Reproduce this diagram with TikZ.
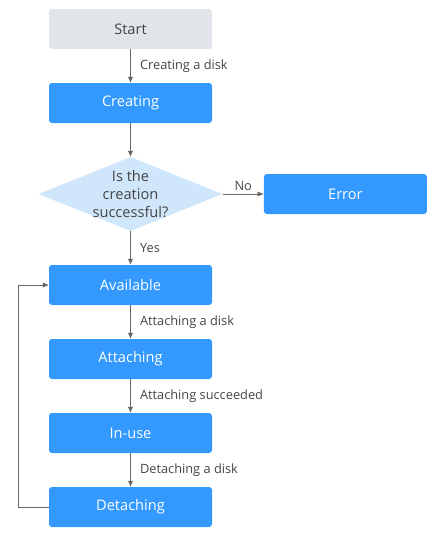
\documentclass[tikz,border=0pt]{standalone}
\usepackage{fontspec}
\setmainfont{Open Sans}
\usetikzlibrary{positioning}
\usetikzlibrary{arrows.meta}
\usetikzlibrary{shapes.geometric}

\definecolor{stateblue}{HTML}{3399FF}
\definecolor{startgray}{HTML}{E1E4E8}
\definecolor{checkblue}{HTML}{D0E6FA}
\definecolor{linegray}{HTML}{666666}
\definecolor{textgray}{HTML}{444444}

\begin{document}
\begin{tikzpicture}[ align = center
                     , node distance = 33.6pt and 41pt
                     , font = \fontsize{14.6pt}{18pt}\selectfont
                     , >={Latex[width=5pt, length=6pt]}
                     , every node/.style = { rectangle
                                         , rounded corners = 3pt
                                         , align = center
                                         , minimum width = 163pt
                                         , minimum height = 40pt }
                     ]
  \useasboundingbox (0pt,0pt) rectangle (439pt,-538pt);

  %%
  %% Nodes
  %%
  \tikzset{ state/.style={fill=stateblue, text=white}
          , begin/.style={fill=startgray, text=textgray}
          , check/.style={diamond, fill=checkblue, text=textgray,
                          rounded corners=0pt, shape aspect=2.49,
                          inner sep=-14pt, minimum width=184pt,
                          minimum height=74pt}
          }

  \node (start) [begin] at (130.5pt,-29pt) {Start};
  \node (creating) [state, below = of start] {Creating};
  \node (check) [check, below = of creating] {Is the\\creation\\successful?};
  \node (error) [state, right = of check] {Error};
  \node (available) [state, below = of check] {Available};
  \node (attaching) [state, below = of available] {Attaching};
  \node (inuse) [state, below = of attaching] {In-use};
  \node (detaching) [state, below = of inuse] {Detaching};

  \tikzset{every node/.style={font=\fontsize{12.8pt}{15pt}\selectfont, text=textgray}}
  %%
  %% Relationship between nodes (arrows)
  %%
  % Vertical lines.
  \draw[->, linegray] (start) -- node[right=6pt] {Creating a disk}
            (creating);
  \draw[->, linegray] (creating) --
            (check);
  \draw[->, linegray] (check) -- node[right=6pt] {Yes}
            (available);
  \draw[->, linegray] (available) -- node[right=6pt] {Attaching a disk}
            (attaching);
  \draw[->, linegray] (attaching) -- node[right=6pt] {Attaching succeeded}
            (inuse);
  \draw[->, linegray] (inuse) -- node[right=6pt] {Detaching a disk}
            (detaching);
  % Horizontal lines.
  \draw[->, linegray] (check) -- node[above] {No}
            (error);
  \draw[->, linegray] (detaching.west) -- ++(-31pt,0pt) |-
            (available.west);
\end{tikzpicture}
\end{document}
